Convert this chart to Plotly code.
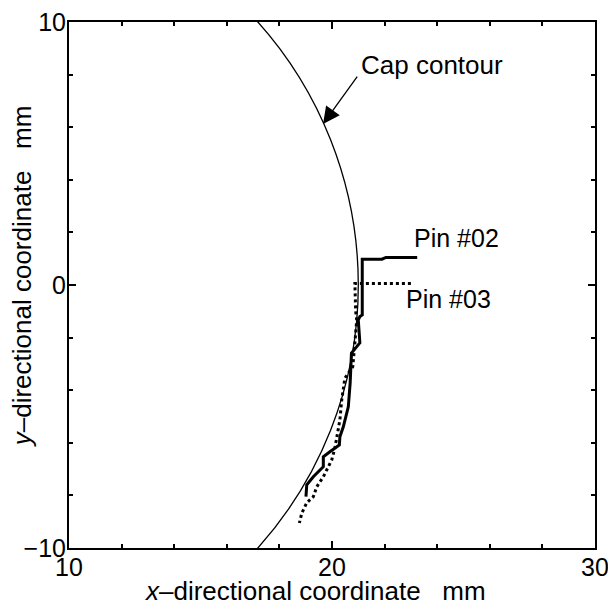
import plotly.graph_objects as go

# Pin #02 (solid) and Pin #03 (dotted) edge traces, mm
pin02_x = [23.24, 22.05, 21.9, 21.3, 21.15, 21.15, 21.06, 21.0, 21.06, 20.74, 20.69, 20.62,
           20.43, 20.30, 20.28, 19.92, 19.67, 19.67, 19.29, 19.04, 19.01]
pin02_y = [1.05, 1.05, 0.98, 0.98, 0.98, -1.14, -1.2, -1.33, -2.2, -2.59, -3.73, -4.63,
           -5.39, -5.77, -6.08, -6.34, -6.53, -6.91, -7.29, -7.60, -8.05]

pin03_x = [23.0, 20.87, 20.9, 20.94, 20.87, 20.79, 20.49, 20.37, 20.30, 20.11, 19.99,
           19.67, 19.42, 19.29, 19.04, 18.85, 18.76]
pin03_y = [0.06, 0.06, -1.0, -1.33, -2.2, -3.11, -3.54, -4.37, -5.13, -6.20, -6.65,
           -7.29, -7.67, -8.05, -8.28, -8.68, -9.05]

# cap contour circle (centre, radius) in mm
cap_cx, cap_cy, cap_r = 6.0, 0.0, 15.0

FONT = "Liberation Sans, Arial, sans-serif"

fig = go.Figure()
fig.add_trace(go.Scatter(x=pin02_x, y=pin02_y, mode="lines",
                         line=dict(color="black", width=3), showlegend=False))
fig.add_trace(go.Scatter(x=pin03_x, y=pin03_y, mode="lines",
                         line=dict(color="black", width=3, dash="dot"), showlegend=False))

fig.add_shape(type="circle", xref="x", yref="y",
              x0=cap_cx - cap_r, x1=cap_cx + cap_r,
              y0=cap_cy - cap_r, y1=cap_cy + cap_r,
              line=dict(color="black", width=1.3))

# arrow to the contour
fig.add_annotation(x=19.66, y=6.12, ax=21.0, ay=7.98, xref="x", yref="y",
                   axref="x", ayref="y", text="", showarrow=True,
                   arrowhead=2, arrowsize=2.6, arrowwidth=1.3, arrowcolor="black")
fig.add_annotation(x=21.03, y=8.35, text="Cap contour", showarrow=False,
                   xanchor="left", yanchor="middle", font=dict(size=26))
fig.add_annotation(x=23.04, y=1.79, text="Pin #02", showarrow=False,
                   xanchor="left", yanchor="middle", font=dict(size=25))
fig.add_annotation(x=22.74, y=-0.53, text="Pin #03", showarrow=False,
                   xanchor="left", yanchor="middle", font=dict(size=25))

# axis titles
fig.add_annotation(xref="paper", yref="paper", x=0.467, y=-0.082,
                   text="<i>x</i>–directional coordinate\u00a0\u00a0\u00a0mm",
                   showarrow=False, xanchor="center", yanchor="middle", font=dict(size=26))
fig.add_annotation(xref="paper", yref="paper", x=-0.089, y=0.517,
                   text="<i>y</i>–directional coordinate\u00a0\u00a0\u00a0mm", textangle=-90,
                   showarrow=False, xanchor="center", yanchor="middle", font=dict(size=26))

axis_style = dict(showline=True, linecolor="black", linewidth=2, mirror="ticks",
                  ticks="inside", ticklen=7, tickwidth=1.5, tickcolor="black",
                  showgrid=False, zeroline=False, dtick=10, ticklabeloverflow="allow",
                  automargin=False,
                  minor=dict(dtick=2, ticks="inside", ticklen=4, tickwidth=1.5,
                             tickcolor="black", showgrid=False),
                  tickfont=dict(size=25, color="black"))

fig.update_xaxes(range=[10, 30], ticklabelstandoff=-4, **axis_style)
fig.update_yaxes(range=[-10, 10], ticklabelstandoff=-4, **axis_style)

fig.update_layout(
    width=608, height=605,
    margin=dict(l=69, r=13, t=22, b=57),
    plot_bgcolor="white", paper_bgcolor="white",
    font=dict(family=FONT, color="black"),
    showlegend=False,
)

# drop the default 8px body margin so the figure fills the window exactly
fig.write_html("out.html", config={"displayModeBar": False},
               post_script="document.body.style.margin='0';document.body.style.overflow='hidden';")
